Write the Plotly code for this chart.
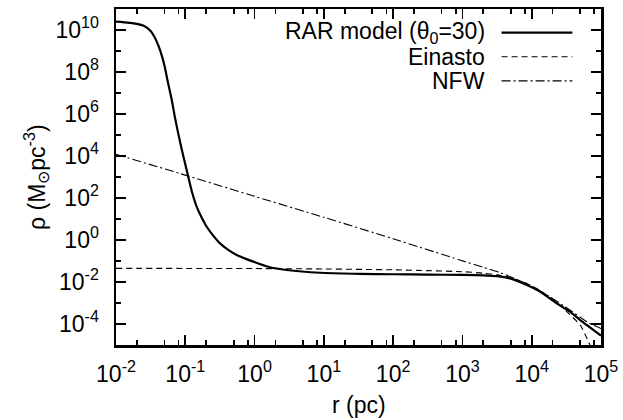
import plotly.graph_objects as go

# ---- data (log10 values) ----
rar_log_r = [-2.0, -1.8, -1.6, -1.5, -1.45, -1.4, -1.35, -1.3, -1.25, -1.2, -1.15, -1.1,
             -1.05, -0.957, -0.9, -0.836, -0.76, -0.691, -0.6, -0.499, -0.38, -0.258,
             -0.019, 0.222, 0.463, 0.944, 1.5, 2.0, 2.5, 3.0, 3.3, 3.5, 3.685, 3.93, 4.1,
             4.26, 4.4, 4.55, 4.7, 4.85, 5.0]
rar_log_rho = [10.40, 10.34, 10.2, 9.95, 9.7, 9.35, 8.9, 8.3, 7.5, 6.75, 5.85, 5.05,
               4.3, 3.01, 2.25, 1.59, 1.05, 0.63, 0.22, -0.16, -0.47, -0.71,
               -1.03, -1.30, -1.43, -1.56, -1.61, -1.63, -1.65, -1.66, -1.68, -1.72, -1.83,
               -2.14, -2.42, -2.78, -3.1, -3.41, -3.81, -4.18, -4.55]

ein_log_r = [-2.0, 0.0, 1.0, 2.0, 2.5, 3.0, 3.3, 3.5, 3.7, 3.9, 4.1, 4.26, 4.41, 4.55,
             4.7, 4.84, 4.9]
ein_log_rho = [-1.35, -1.36, -1.38, -1.42, -1.46, -1.51, -1.58, -1.66, -1.8, -2.03, -2.37,
               -2.72, -3.1, -3.55, -4.05, -5.0, -5.5]

nfw_log_r = [-2.0, -1.0, 0.0, 1.0, 2.0, 2.96, 3.3, 3.54, 3.7, 4.0, 4.26, 4.55, 4.8, 5.0]
nfw_log_rho = [4.08, 3.09, 2.08, 1.08, 0.06, -0.95, -1.3, -1.55, -1.76, -2.2, -2.7, -3.33,
               -3.9, -4.22]

x_tick_exp = [-2, -1, 0, 1, 2, 3, 4, 5]
x_tick_labels = ["10<sup>-2</sup>", "10<sup>-1</sup>", "10<sup>0</sup>", "10<sup>1</sup>",
                 "10<sup>2</sup>", "10<sup>3</sup>", "10<sup>4</sup>", "10<sup>5</sup>"]
x_minor_mult = [2, 5, 8]
y_tick_exp = [-4, -2, 0, 2, 4, 6, 8, 10]
y_tick_labels = ["10<sup>-4</sup>", "10<sup>-2</sup>", "10<sup>0</sup>", "10<sup>2</sup>",
                 "10<sup>4</sup>", "10<sup>6</sup>", "10<sup>8</sup>", "10<sup>10</sup>"]
y_minor_exp = [-5, -3, -1, 1, 3, 5, 7, 9, 11]

legend_names = ["RAR model (θ<sub>0</sub>=30)", "Einasto", "NFW"]
x_title = "r (pc)"
y_title = "ρ (M<sub>⊙</sub>pc<sup>-3</sup>)"

# ---- figure ----
FONT = "Liberation Sans, Arial, Helvetica, sans-serif"
FS = 23

def pw(v):
    return [10 ** e for e in v]

fig = go.Figure()
fig.add_trace(go.Scatter(x=pw(ein_log_r), y=pw(ein_log_rho), mode="lines",
                         line=dict(color="black", width=1.1, dash="6px,4px", shape="spline", smoothing=0.6),
                         showlegend=False, hoverinfo="skip"))
fig.add_trace(go.Scatter(x=pw(nfw_log_r), y=pw(nfw_log_rho), mode="lines",
                         line=dict(color="black", width=1.1, dash="9px,3px,2px,3px", shape="spline", smoothing=0.6),
                         showlegend=False, hoverinfo="skip"))
fig.add_trace(go.Scatter(x=pw(rar_log_r), y=pw(rar_log_rho), mode="lines",
                         line=dict(color="black", width=2.2, shape="spline", smoothing=0.8),
                         showlegend=False, hoverinfo="skip"))

x_minor = [m * 10 ** e for e in x_tick_exp[:-1] for m in x_minor_mult]

axis_common = dict(type="log", showgrid=False, zeroline=False, showline=True,
                   linecolor="black", linewidth=2.5, mirror="ticks", ticks="inside",
                   ticklen=10, tickwidth=1.6, tickcolor="black", automargin=False,
                   tickfont=dict(family=FONT, size=FS, color="black"))

fig.update_xaxes(range=[-2, 5], tickmode="array", tickvals=pw(x_tick_exp),
                 ticktext=x_tick_labels, ticklabelstandoff=7,
                 minor=dict(tickmode="array", tickvals=x_minor, ticks="inside", ticklen=5,
                            tickwidth=1.6, tickcolor="black", showgrid=False),
                 **axis_common)
fig.update_yaxes(range=[-5, 11], tickmode="array", tickvals=pw(y_tick_exp),
                 ticktext=y_tick_labels, ticklabelstandoff=10,
                 minor=dict(tickmode="array", tickvals=pw(y_minor_exp), ticks="inside",
                            ticklen=5, tickwidth=1.6, tickcolor="black", showgrid=False),
                 **axis_common)

# axis titles
fig.add_annotation(x=0.5, y=-0.178, xref="paper", yref="paper", text=x_title,
                   showarrow=False, xanchor="center", yanchor="middle",
                   font=dict(family=FONT, size=FS, color="black"))
fig.add_annotation(x=-0.165, y=0.5, xref="paper", yref="paper", text=y_title,
                   showarrow=False, xanchor="center", yanchor="middle", textangle=-90,
                   font=dict(family=FONT, size=FS, color="black"))

# manual legend (text left of line sample)
leg_y = [0.9295, 0.858, 0.786]
leg_dash = ["solid", "6px,4px", "9px,3px,2px,3px"]
leg_w = [2.2, 1.1, 1.1]
for name, yy, d, w in zip(legend_names, leg_y, leg_dash, leg_w):
    fig.add_annotation(x=0.764, y=yy, xref="paper", yref="paper", text=name,
                       showarrow=False, xanchor="right", yanchor="middle",
                       font=dict(family=FONT, size=FS, color="black"))
    fig.add_shape(type="line", xref="paper", yref="paper", x0=0.795, x1=0.941,
                  y0=yy, y1=yy, line=dict(color="black", width=w, dash=d))

fig.update_layout(width=623, height=420, margin=dict(l=116, r=22, t=9, b=75),
                  plot_bgcolor="white", paper_bgcolor="white", hovermode=False,
                  font=dict(family=FONT, size=FS, color="black"))

# remove the default page margin so the 623x420 figure fills the window exactly
fig.write_html("out.html", config={"displayModeBar": False, "staticPlot": True},
               post_script="document.body.style.margin='0';"
                           "document.documentElement.style.overflow='hidden';")
